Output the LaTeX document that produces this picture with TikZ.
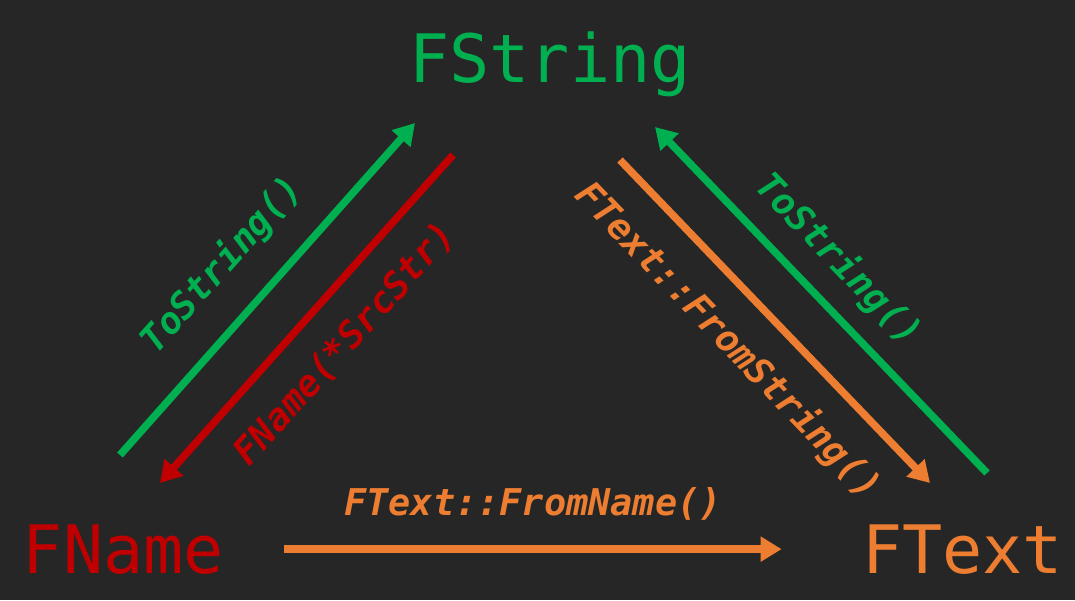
\documentclass[tikz,border=0pt]{standalone}
\usepackage{fontspec}
\usetikzlibrary{arrows.meta}
\newfontfamily\codefont{DejaVu Sans Mono}
\definecolor{bgdark}{HTML}{262626}
\definecolor{strgreen}{HTML}{00B050}
\definecolor{namered}{HTML}{C00000}
\definecolor{textorange}{HTML}{ED7D31}
\begin{document}
\begin{tikzpicture}[
    typename/.style={inner sep=0pt, anchor=base, font=\codefont\fontsize{38}{38}\selectfont},
    lbl/.style={inner sep=0pt, font=\codefont\bfseries\itshape\fontsize{21}{21}\selectfont},
    conv/.style={line width=0.15cm, -{Triangle[length=0.42cm,width=0.48cm]}}
]
% Background
\fill[bgdark] (0,0) rectangle (21.5,12);
\useasboundingbox (0,0) rectangle (21.5,12);

% Types
\node[typename, strgreen] (FString) at (11.0,10.34) {FString};
\node[typename, namered] (FName) at (2.47,0.54) {FName};
\node[typename, textorange] (FText) at (19.25,0.54) {FText};

% Arrow ends
\coordinate (nameUp) at (2.4,2.9);
\coordinate (stringFromName) at (8.3,9.54);
\coordinate (stringDownLeft) at (9.06,8.9);
\coordinate (nameFromString) at (3.2,2.34);
\coordinate (stringDownRight) at (12.4,8.8);
\coordinate (textFromString) at (18.6,2.34);
\coordinate (textUp) at (19.74,2.54);
\coordinate (stringFromText) at (13.1,9.46);

% Conversions
\draw[conv, strgreen] (nameUp) -- (stringFromName);
\draw[conv, namered] (stringDownLeft) -- (nameFromString);
\draw[conv, textorange] (stringDownRight) -- (textFromString);
\draw[conv, strgreen] (textUp) -- (stringFromText);
\draw[conv, textorange, shorten <=1.2cm, shorten >=1.6cm] (FName.east) -- (FText.west |- FName.east);

% Labels
\node[lbl, strgreen, rotate=48.2] (nameToString) at (4.44,6.7) {ToString()};
\node[lbl, namered, rotate=48.2] (nameCtor) at (6.9,5.12) {FName(*SrcStr)};
\node[lbl, textorange, rotate=-46.2] (fromString) at (14.56,5.18) {FText::FromString()};
\node[lbl, strgreen, rotate=-46.2] (textToString) at (16.76,6.8) {ToString()};
\node[lbl, textorange] (fromName) at (10.66,1.92) {FText::FromName()};
\end{tikzpicture}
\end{document}
